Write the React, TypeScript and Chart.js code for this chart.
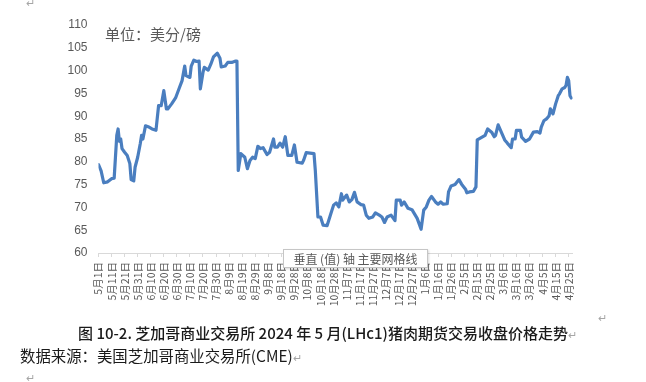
import React, { useEffect, useRef } from "react";
import { Chart, registerables } from "chart.js";

Chart.register(...registerables);

// Days counted from 2023-05-01 (day 0)
const dayOffsets = [
  0, 2, 4, 7, 10, 12, 14, 15, 16, 17, 18, 20, 22, 24, 25, 27, 28, 30, 32, 33,
  34, 36, 38, 41, 44, 46, 48, 50, 52, 53, 56, 59, 62, 64, 66, 67, 70, 71, 73, 75,
  77, 78, 80, 81, 84, 86, 88, 91, 93, 94, 97, 99, 102, 105, 106, 107, 109, 112, 114, 116,
  118, 120, 122, 124, 126, 129, 131, 134, 135, 137, 139, 141, 143, 145, 148, 150, 152, 156, 157, 159,
  162, 165, 166, 168, 170, 172, 175, 178, 180, 182, 184, 186, 187, 190, 192, 194, 196, 198, 201, 203,
  205, 207, 210, 212, 215, 217, 219, 221, 224, 227, 228, 231, 232, 234, 237, 240, 244, 247, 249, 251,
  253, 255, 258, 260, 262, 264, 267, 268, 270, 273, 276, 278, 281, 282, 284, 287, 289, 290, 293, 296,
  298, 301, 303, 304, 306, 309, 311, 313, 316, 317, 319, 320, 323, 324, 327, 330, 333, 336, 338, 339,
  341, 343, 345, 346, 348, 350, 352, 353, 355, 357, 358, 359, 360, 361, 362,
];

const closePrices = [
  79.4, 78.0, 75.4, 75.6, 76.3, 76.4, 85.8, 87.2, 84.5, 85.0, 82.9, 82.1, 81.4, 79.6, 76.1, 75.8, 78.8, 81.0, 84.0, 85.8,
  85.0, 87.9, 87.7, 87.2, 86.9, 92.3, 92.3, 95.6, 91.6, 91.6, 92.7, 94.0, 96.3, 97.8, 101.0, 98.9, 98.5, 101.0, 102.3, 102.0,
  102.1, 96.0, 99.6, 100.7, 100.1, 101.4, 103.0, 103.8, 102.7, 100.8, 101.0, 101.8, 101.8, 102.1, 102.1, 78.1, 81.8, 81.0, 78.5, 80.3,
  81.0, 80.7, 83.4, 82.9, 83.1, 81.6, 82.1, 85.0, 83.2, 83.2, 84.1, 83.2, 85.5, 81.4, 81.4, 83.7, 79.9, 79.7, 80.3, 82.0,
  81.9, 81.8, 78.1, 67.9, 67.9, 66.1, 66.0, 68.7, 70.5, 71.0, 70.1, 73.0, 71.6, 72.7, 71.2, 71.7, 73.3, 71.2, 70.6, 70.5,
  68.3, 67.6, 67.9, 68.8, 68.3, 67.9, 66.7, 67.9, 68.3, 67.1, 71.6, 71.6, 70.5, 71.2, 69.8, 69.5, 67.6, 65.2, 69.4, 70.1,
  71.6, 72.4, 71.2, 70.7, 71.2, 70.7, 70.8, 73.4, 74.7, 75.0, 76.1, 75.1, 74.0, 73.2, 73.4, 73.5, 74.5, 84.8, 85.3, 85.8,
  87.2, 86.5, 85.5, 85.8, 88.1, 86.1, 84.8, 84.1, 83.1, 85.0, 85.0, 86.9, 86.9, 85.4, 84.5, 85.0, 86.5, 86.6, 86.3, 87.6,
  89.0, 89.4, 90.1, 91.6, 90.5, 92.7, 94.5, 94.9, 96.0, 96.3, 96.8, 98.5, 97.8, 94.5, 94.0,
];

const tickDays = [
  0, 10, 20, 30, 40, 50, 60, 70, 80, 90, 100, 110, 120, 130, 140, 150, 160, 170, 180,
  190, 200, 210, 220, 230, 240, 250, 260, 270, 280, 290, 300, 310, 320, 330, 340, 350, 360,
];

const tickLabels = [
  "5月1日", "5月11日", "5月21日", "5月31日", "6月10日", "6月20日", "6月30日", "7月10日",
  "7月20日", "7月30日", "8月9日", "8月19日", "8月29日", "9月8日", "9月18日", "9月28日",
  "10月8日", "10月18日", "10月28日", "11月7日", "11月17日", "11月27日", "12月7日", "12月17日",
  "12月27日", "1月6日", "1月16日", "1月26日", "2月5日", "2月15日", "2月25日", "3月6日",
  "3月16日", "3月26日", "4月5日", "4月15日", "4月25日",
];

const yTicks = [60, 65, 70, 75, 80, 85, 90, 95, 100, 105, 110];

const unitText = "单位：美分/磅";
const captionText = "图 10-2. 芝加哥商业交易所 2024 年 5 月(LHc1)猪肉期货交易收盘价格走势";
const sourceText = "数据来源：美国芝加哥商业交易所(CME)";
const tooltipText = "垂直 (值) 轴 主要网格线";

const W = 646;
const H = 382;
const AREA_LEFT = 98.5;
const AREA_RIGHT = 572.6;
const AREA_TOP = 25;
const AREA_BOTTOM = 253;

const CJK = '"Noto Sans CJK SC", "Noto Sans", sans-serif';

export default function App() {
  const ref = useRef<HTMLCanvasElement | null>(null);

  useEffect(() => {
    if (!ref.current) return;
    const points = dayOffsets.map((d, i) => ({ x: d, y: closePrices[i] }));
    const chart = new Chart(ref.current, {
      type: "line",
      data: {
        datasets: [
          {
            data: points,
            borderColor: "#4a7ebf",
            borderWidth: 3.2,
            pointRadius: 0,
            tension: 0,
            fill: false,
            borderJoinStyle: "round",
            borderCapStyle: "round",
          },
        ],
      },
      options: {
        animation: false,
        responsive: false,
        events: [],
        plugins: { legend: { display: false }, tooltip: { enabled: false }, title: { display: false } },
        layout: { padding: { left: 0, right: W - AREA_RIGHT, top: AREA_TOP, bottom: 0 } },
        scales: {
          x: {
            type: "linear",
            min: 0,
            max: 363,
            afterFit: (s: any) => {
              s.height = H - AREA_BOTTOM;
            },
            afterBuildTicks: (s: any) => {
              s.ticks = tickDays.map((v) => ({ value: v }));
            },
            grid: {
              display: true,
              drawOnChartArea: false,
              drawTicks: true,
              tickLength: 4,
              color: "#d9d9d9",
            },
            border: { display: true, color: "#d9d9d9", width: 1 },
            ticks: {
              autoSkip: false,
              maxRotation: 90,
              minRotation: 90,
              padding: 5,
              color: "#595959",
              font: { family: CJK, size: 10.5 },
              callback: (v: any) => {
                const i = tickDays.indexOf(Number(v));
                return i >= 0 ? tickLabels[i] : "";
              },
            },
          },
          y: {
            type: "linear",
            min: 60,
            max: 110,
            afterFit: (s: any) => {
              s.width = AREA_LEFT;
            },
            afterBuildTicks: (s: any) => {
              s.ticks = yTicks.map((v) => ({ value: v }));
            },
            grid: { display: false, drawTicks: false },
            border: { display: false },
            ticks: {
              padding: 11,
              color: "#595959",
              font: { family: '"Liberation Sans", Arial, sans-serif', size: 12 },
            },
          },
        },
      },
    });
    return () => chart.destroy();
  }, []);

  const markStyle: React.CSSProperties = { fontSize: 11, color: "#a6a6a6", fontFamily: CJK, fontWeight: 400 };
  const mark = (left: number, top: number) => (
    <div style={{ position: "absolute", left, top, lineHeight: 1, ...markStyle }}>↵</div>
  );

  return (
    <div style={{ position: "absolute", left: 0, top: 0, width: W, height: H, background: "#fff", overflow: "hidden" }}>
      <canvas ref={ref} width={W} height={H} style={{ position: "absolute", left: 0, top: 0, width: W, height: H }} />
      <div style={{ position: "absolute", left: 105, top: 25, fontSize: 15, color: "#595959", fontFamily: CJK, lineHeight: "17px", whiteSpace: "nowrap" }}>
        {unitText}
      </div>
      <div
        style={{
          position: "absolute",
          left: 283,
          top: 249,
          width: 143,
          height: 17,
          border: "1px solid #c6c6c6",
          background: "#fff",
          boxShadow: "1px 1px 2px rgba(0,0,0,0.15)",
          fontSize: 12,
          color: "#595959",
          fontFamily: CJK,
          lineHeight: "17px",
          textAlign: "center",
          whiteSpace: "nowrap",
        }}
      >
        {tooltipText}
      </div>
      <div style={{ position: "absolute", left: 78, top: 324, fontSize: 15, fontWeight: 500, color: "#1a1a1a", fontFamily: CJK, lineHeight: "18px", whiteSpace: "nowrap" }}>
        {captionText}
        <span style={markStyle}>↵</span>
      </div>
      <div style={{ position: "absolute", left: 20, top: 346, fontSize: 15.4, color: "#1a1a1a", fontFamily: CJK, lineHeight: "18px", whiteSpace: "nowrap" }}>
        {sourceText}
        <span style={markStyle}>↵</span>
      </div>
      {mark(26, -3)}
      {mark(598, 312)}
      {mark(26, 372)}
    </div>
  );
}
